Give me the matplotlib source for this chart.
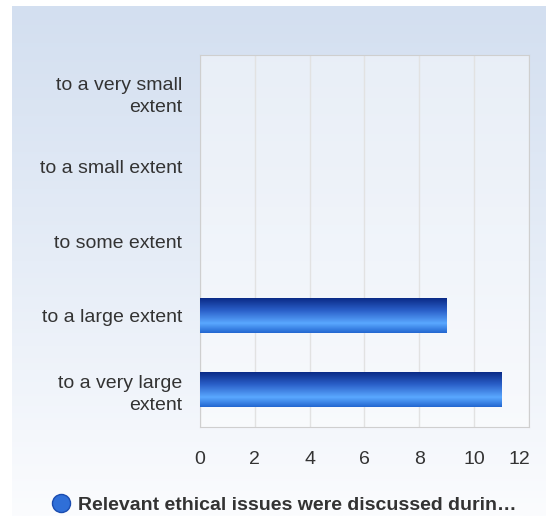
import numpy as np
import matplotlib.pyplot as plt
from matplotlib.lines import Line2D
from matplotlib.colors import LinearSegmentedColormap
from matplotlib.transforms import ScaledTranslation

# Data (top to bottom)
categories = ["to a very small\nextent", "to a small extent", "to some extent",
              "to a large extent", "to a very large\nextent"]
counts = [0, 0, 0, 9, 11]
xticks = [0, 2, 4, 6, 8, 10, 12]
series_name = "Relevant ethical issues were discussed durin\u2026"

plt.rcParams['font.family'] = ['Liberation Sans', 'DejaVu Sans']

fig = plt.figure(figsize=(5.46, 5.16), dpi=100)
fig.patch.set_facecolor('white')

# Panel background: light blue fading to white
bg = fig.add_axes([12 / 546, 0, 1 - 12 / 546, 1 - 6 / 516], zorder=-10)
grad = np.linspace(0, 1, 256).reshape(-1, 1)
bg_cmap = LinearSegmentedColormap.from_list('bg', ['#d3dff0', '#e6edf7', '#fbfcfe'])
bg.imshow(grad, aspect='auto', cmap=bg_cmap, extent=(0, 1, 0, 1), origin='upper')
bg.set_axis_off()

ax = fig.add_axes([200 / 546, 1 - 427 / 516, 329 / 546, 372 / 516])
ax.set_facecolor((1, 1, 1, 0.45))

bar_cmap = LinearSegmentedColormap.from_list(
    'bar', [(0.0, '#0a2a86'), (0.35, '#2a5fc8'), (0.72, '#5aa8ff'), (1.0, '#2266d0')])
ypos = np.arange(len(categories))
h = 0.47
for y, v in zip(ypos, counts):
    if v <= 0:
        continue
    ax.imshow(grad, aspect='auto', cmap=bar_cmap, origin='upper',
              extent=(0, v, y + h / 2, y - h / 2), zorder=3)

ax.set_xlim(0, 12)
ax.set_ylim(len(categories) - 0.5, -0.5)
ax.set_xticks(xticks)
ax.set_xticklabels([str(t) for t in xticks])
ax.set_yticks(ypos)
ax.set_yticklabels(categories, ha='right', multialignment='right', linespacing=1.4)
ax.tick_params(axis='both', length=0, labelsize=14, colors='#333333')
ax.tick_params(axis='x', pad=17)
ax.tick_params(axis='y', pad=13)
ax.grid(axis='x', color='#e2e2e2', linewidth=1)
ax.set_axisbelow(True)
for s in ax.spines.values():
    s.set_color('#cfcfcf')

# last tick label is pulled inside the panel in the reference
last = ax.get_xticklabels()[-1]
last.set_transform(last.get_transform() + ScaledTranslation(-0.1, 0, fig.dpi_scale_trans))

handle = Line2D([], [], marker='o', linestyle='', markersize=13,
                markerfacecolor='#2f6fd8', markeredgecolor='#1a4cb0')
fig.legend([handle], [series_name], loc='center', bbox_to_anchor=(0.518, 1 - 505 / 516),
           frameon=False, handletextpad=0.25, handlelength=1.2,
           prop={'weight': 'bold', 'size': 14}, labelcolor='#333333')

fig.savefig('out.png', dpi=100)
